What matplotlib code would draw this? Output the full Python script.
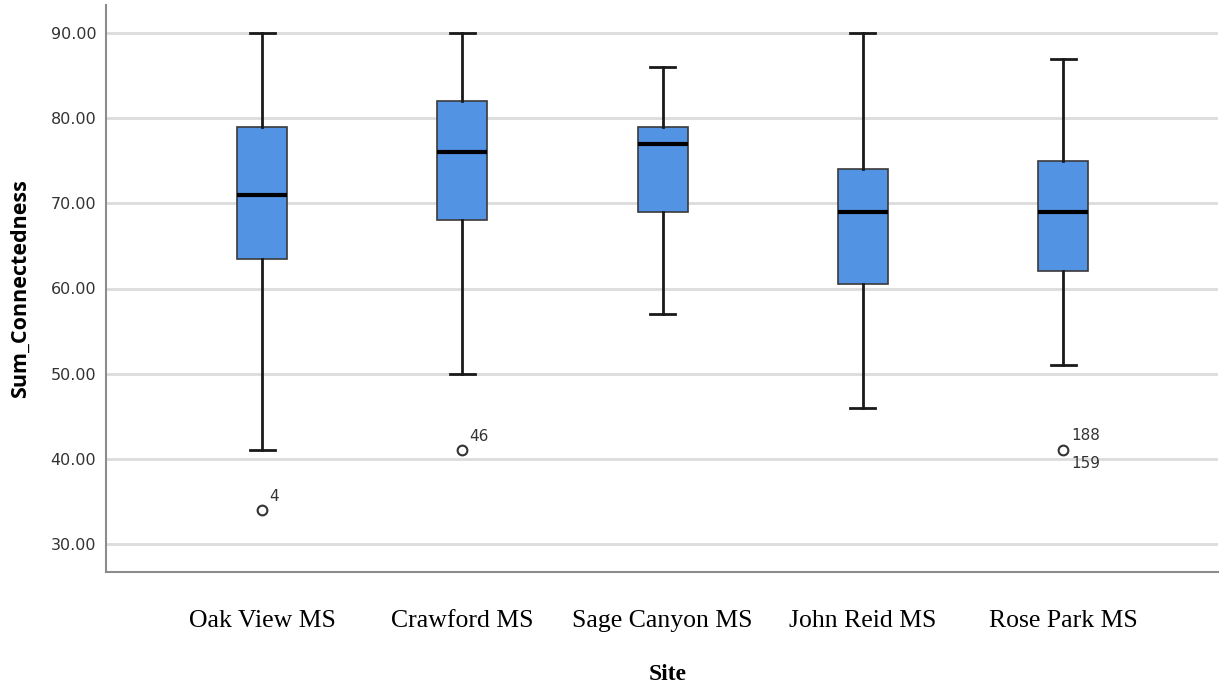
import matplotlib.pyplot as plt

# Box statistics
sites = ["Oak View MS", "Crawford MS", "Sage Canyon MS", "John Reid MS", "Rose Park MS"]
whisker_low = [41, 50, 57, 46, 51]
q1 = [63.5, 68, 69, 60.5, 62]
median = [71, 76, 77, 69, 69]
q3 = [79, 82, 79, 74, 75]
whisker_high = [90, 90, 86, 90, 87]
outliers = [[34], [41], [], [], [41]]
outlier_ids = [[["4"]], [["46"]], [], [], [["188", "159"]]]

yticks = [30, 40, 50, 60, 70, 80, 90]

box_color = "#5393e3"

stats = []
for i, name in enumerate(sites):
    stats.append(
        {
            "label": name,
            "whislo": whisker_low[i],
            "q1": q1[i],
            "med": median[i],
            "q3": q3[i],
            "whishi": whisker_high[i],
            "fliers": outliers[i],
        }
    )

fig = plt.figure(figsize=(12.22, 6.87), dpi=100)
ax = fig.add_axes([106 / 1222, 1 - 572 / 687, (1218 - 106) / 1222, (572 - 5) / 687])

positions = list(range(len(sites)))
ax.bxp(
    stats,
    positions=positions,
    widths=0.25,
    patch_artist=True,
    boxprops=dict(facecolor=box_color, edgecolor="#3a3a3a", linewidth=1.2),
    medianprops=dict(color="black", linewidth=3),
    whiskerprops=dict(color="#1a1a1a", linewidth=2),
    capprops=dict(color="#1a1a1a", linewidth=2),
    capwidths=0.125,
    flierprops=dict(marker="o", markersize=7, markerfacecolor="none",
                    markeredgecolor="#333333", markeredgewidth=1.5),
    zorder=3,
)

# case labels next to outliers
lab_kw = dict(textcoords="offset pixels", fontsize=11, color="#333333", ha="left")
for i, ids_list in enumerate(outlier_ids):
    for val, ids in zip(outliers[i], ids_list):
        if len(ids) == 1:
            ax.annotate(ids[0], (positions[i], val), xytext=(7, 6), va="bottom", **lab_kw)
        else:
            ax.annotate(ids[0], (positions[i], val), xytext=(8, 7), va="bottom", **lab_kw)
            ax.annotate(ids[1], (positions[i], val), xytext=(8, -6), va="top", **lab_kw)

ax.set_xlim(-0.779, 4.773)
ax.set_ylim(26.7, 93.3)
ax.set_yticks(yticks)
ax.set_yticklabels([f"{v:.2f}" for v in yticks], fontsize=11.5, color="#333333")
ax.set_xticks(positions)
ax.set_xticklabels(sites, fontsize=18.5, family="Liberation Serif", va="baseline")
ax.tick_params(axis="both", length=0)
ax.tick_params(axis="x", pad=39.5)
ax.tick_params(axis="y", pad=7)

ax.grid(True, axis="y", color="#dcdcdc", linewidth=2, zorder=0)
ax.set_axisbelow(True)
for side in ["top", "right"]:
    ax.spines[side].set_visible(False)
for side in ["left", "bottom"]:
    ax.spines[side].set_color("#8c8c8c")
    ax.spines[side].set_linewidth(1.5)

fig.text(20 / 1222, 1 - 289 / 687, "Sum_Connectedness", rotation=90, fontsize=15.5,
         fontweight="bold", family="Open Sans", ha="center", va="center")
fig.text(668 / 1222, 1 - 674 / 687, "Site", fontsize=17, fontweight="bold",
         family="Liberation Serif", ha="center", va="center")

fig.savefig("out.png", dpi=100)
